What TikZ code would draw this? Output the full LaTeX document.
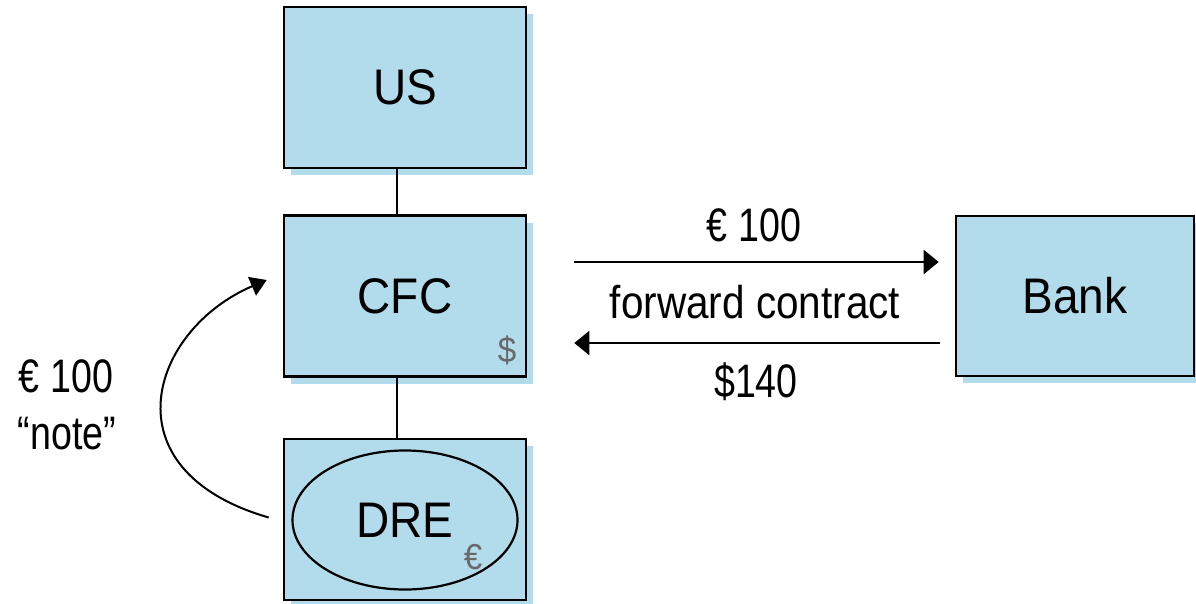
\documentclass[tikz,border=0pt]{standalone}
\usepackage{fontspec}
\setmainfont{Liberation Sans}
\newfontfamily\boxfont[FakeStretch=0.92]{Liberation Sans}
\newfontfamily\narrowfont[FakeStretch=0.8]{Liberation Sans}
\newfontfamily\midfont[FakeStretch=0.88]{Liberation Sans}
\usetikzlibrary{arrows.meta,shadows,shapes.geometric}
\definecolor{boxblue}{RGB}{178,220,236}
\definecolor{markgray}{RGB}{105,105,105}
\tikzset{
  entity/.style={draw=black, line width=2.6pt, fill=boxblue,
    minimum width=242pt, minimum height=161pt, inner sep=0pt,
    font=\boxfont\fontsize{50}{54}\selectfont,
    drop shadow={shadow xshift=7pt, shadow yshift=-7pt, opacity=1, fill=boxblue, draw=none}},
  oval/.style={draw=black, line width=2.2pt, ellipse, minimum width=225pt, minimum height=139pt,
    inner sep=0pt, font=\boxfont\fontsize{50}{54}\selectfont},
  lbl/.style={font=\narrowfont\fontsize{47}{50}\selectfont, inner sep=0pt},
  ccy/.style={text=markgray, font=\boxfont\fontsize{36}{40}\selectfont, inner sep=0pt},
  link/.style={line width=2pt},
  flow/.style={line width=2pt, -{Triangle[length=15pt,width=24pt]}},
  loan/.style={line width=2pt, -{Triangle[length=16pt,width=20pt]}}
}
\begin{document}
\begin{tikzpicture}[x=1pt,y=-1pt]
\useasboundingbox (0,0) rectangle (1196,603);
% entities
\node[entity] (US) at (405,87.5) {US};
\node[entity] (CFC) at (405,296) {CFC};
\node[entity] (DREbox) at (405,519.5) {};
\node[oval] (DRE) at (405,520) {DRE};
\node[entity, minimum width=238pt, minimum height=160pt] (Bank) at (1075,296) {Bank};
% currency marks
\node[ccy] (usd) at (507,350) {\$};
\node[ccy] (eur) at (473,557) {€};
% ownership links
\draw[link] ([xshift=-8pt]US.south) -- ([xshift=-8pt]CFC.north);
\draw[link] ([xshift=-8pt]CFC.south) -- ([xshift=-8pt]DREbox.north);
% forward contract legs
\draw[flow] ([shift={(47,-34)}]CFC.east) -- ([shift={(-16,-34)}]Bank.west);
\draw[flow] ([shift={(-15,47)}]Bank.west) -- ([shift={(47,47)}]CFC.east);
\node[lbl] (eurleg) at (754,225) {€ 100};
\node[lbl, font=\midfont\fontsize{46}{50}\selectfont] (fwd) at (755,302) {forward contract};
\node[lbl] (usdleg) at (756,382) {\$140};
% intercompany note
\coordinate (noteStart) at ([shift={(-14,-2)}]DREbox.west);
\coordinate (noteEnd) at ([shift={(-16,-16)}]CFC.west);
\draw[loan] (noteStart) .. controls (105,470) and (150,330) .. (noteEnd);
\node[lbl] (notamt) at (66,376) {€ 100};
\node[lbl] (notlbl) at (67,434) {“note”};
\end{tikzpicture}
\end{document}
